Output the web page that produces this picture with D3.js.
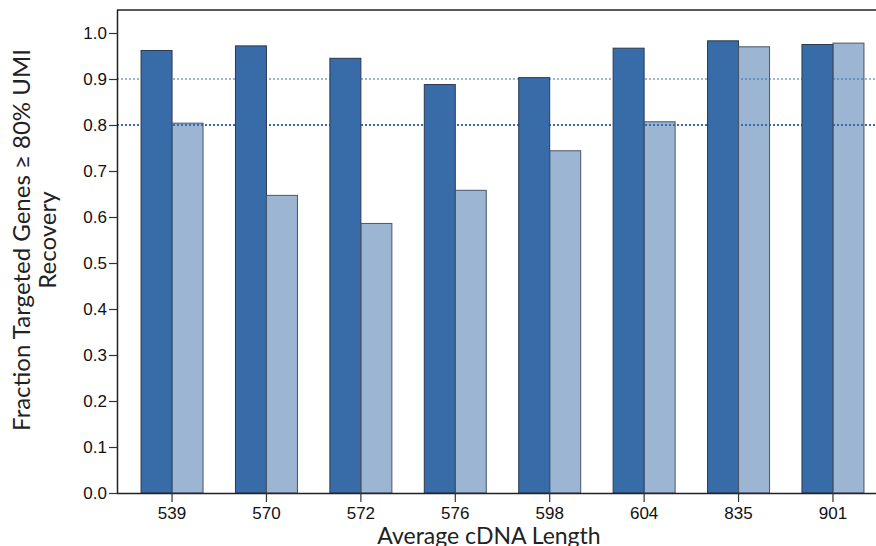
<!DOCTYPE html>
<html>
<head>
<meta charset="utf-8">
<script src="https://cdn.jsdelivr.net/npm/d3@7"></script>
<style>
  body { margin: 0; background: #fff; }
  svg { display: block; }
</style>
</head>
<body>
<script>
// data
var categories = ['539', '570', '572', '576', '598', '604', '835', '901']
var seriesDark = [0.962, 0.972, 0.945, 0.888, 0.903, 0.967, 0.983, 0.975]
var seriesLight = [0.804, 0.647, 0.586, 0.658, 0.744, 0.807, 0.970, 0.978]
var yTicks = [0, 0.1, 0.2, 0.3, 0.4, 0.5, 0.6, 0.7, 0.8, 0.9, 1.0]
var refLines = [0.9, 0.8]

var w = 876
var h = 546
var plotLeft = 117
var plotTop = 10
var plotBottom = 493
var plotRight = 888

var blue = '#386ca8'

var svg = d3.select('body')
  .append('svg')
  .attr('width', w)
  .attr('height', h)

var xScale = d3.scaleBand()
  .domain(categories)
  .range([plotLeft, plotRight])
  .paddingInner(0)
  .paddingOuter(0.083)

var yScale = d3.scaleLinear()
  .domain([0, 1.05])
  .range([plotBottom, plotTop])

var barW = 31

// reference lines (behind bars)
svg.selectAll('line.ref')
  .data(refLines)
  .enter()
  .append('line')
  .attr('class', 'ref')
  .attr('x1', plotLeft)
  .attr('x2', w)
  .attr('y1', function (d) { return yScale(d) })
  .attr('y2', function (d) { return yScale(d) })
  .attr('stroke', function (d) { return d === 0.9 ? '#9bb5d3' : blue })
  .attr('stroke-width', 2)
  .attr('stroke-dasharray', '2,2')

// dark bars
svg.selectAll('rect.dark')
  .data(seriesDark)
  .enter()
  .append('rect')
  .attr('class', 'dark')
  .attr('x', function (d, i) { return xScale(categories[i]) + xScale.bandwidth() / 2 - barW })
  .attr('y', function (d) { return yScale(d) })
  .attr('width', barW)
  .attr('height', function (d) { return plotBottom - yScale(d) })
  .attr('fill', blue)
  .attr('stroke', '#2b3a4e')
  .attr('stroke-width', 1)

// light bars (same blue, half opacity)
svg.selectAll('rect.light')
  .data(seriesLight)
  .enter()
  .append('rect')
  .attr('class', 'light')
  .attr('x', function (d, i) { return xScale(categories[i]) + xScale.bandwidth() / 2 })
  .attr('y', function (d) { return yScale(d) })
  .attr('width', barW)
  .attr('height', function (d) { return plotBottom - yScale(d) })
  .attr('fill', blue)
  .attr('fill-opacity', 0.5)
  .attr('stroke', '#4a5566')
  .attr('stroke-width', 1)

// frame top line
svg.append('line')
  .attr('x1', plotLeft).attr('x2', w)
  .attr('y1', plotTop).attr('y2', plotTop)
  .attr('stroke', '#222').attr('stroke-width', 1.5)

// axes
var yAxis = d3.axisLeft(yScale)
  .tickValues(yTicks)
  .tickFormat(d3.format('.1f'))
  .tickSize(8)
  .tickSizeOuter(0)

var gy = svg.append('g')
  .attr('transform', 'translate(' + plotLeft + ',0)')
  .call(yAxis)
gy.select('.domain').attr('d', 'M0.5,' + plotTop + 'V' + plotBottom).attr('stroke', '#222').attr('stroke-width', 1.5)

var xAxis = d3.axisBottom(xScale)
  .tickSize(9)
  .tickSizeOuter(0)
var gx = svg.append('g')
  .attr('transform', 'translate(0,' + plotBottom + ')')
  .call(xAxis)
gx.select('.domain').attr('d', 'M' + plotLeft + ',0.5H' + w).attr('stroke', '#222').attr('stroke-width', 1.5)

svg.selectAll('.tick line').attr('stroke', '#333').attr('stroke-width', 1.2)
svg.selectAll('.tick text')
  .attr('font-family', 'Liberation Sans, Arial, sans-serif')
  .attr('font-size', '17px')
  .attr('fill', '#111')
gy.selectAll('.tick text').attr('x', -10)
gx.selectAll('.tick text').attr('y', 14)

// axis titles
svg.append('text')
  .attr('x', 489)
  .attr('y', 544)
  .attr('text-anchor', 'middle')
  .attr('font-family', 'Lato, sans-serif')
  .attr('font-size', '23px')
  .attr('fill', '#222')
  .text('Average cDNA Length')

var yTitle = svg.append('text')
  .attr('transform', 'translate(30,240) rotate(-90)')
  .attr('text-anchor', 'middle')
  .attr('font-family', 'Lato, sans-serif')
  .attr('font-size', '24px')
  .attr('fill', '#222')
yTitle.append('tspan').attr('x', 0).attr('y', 0).text('Fraction Targeted Genes ≥ 80% UMI')
yTitle.append('tspan').attr('x', 0).attr('y', 26).text('Recovery')
</script>
</body>
</html>
